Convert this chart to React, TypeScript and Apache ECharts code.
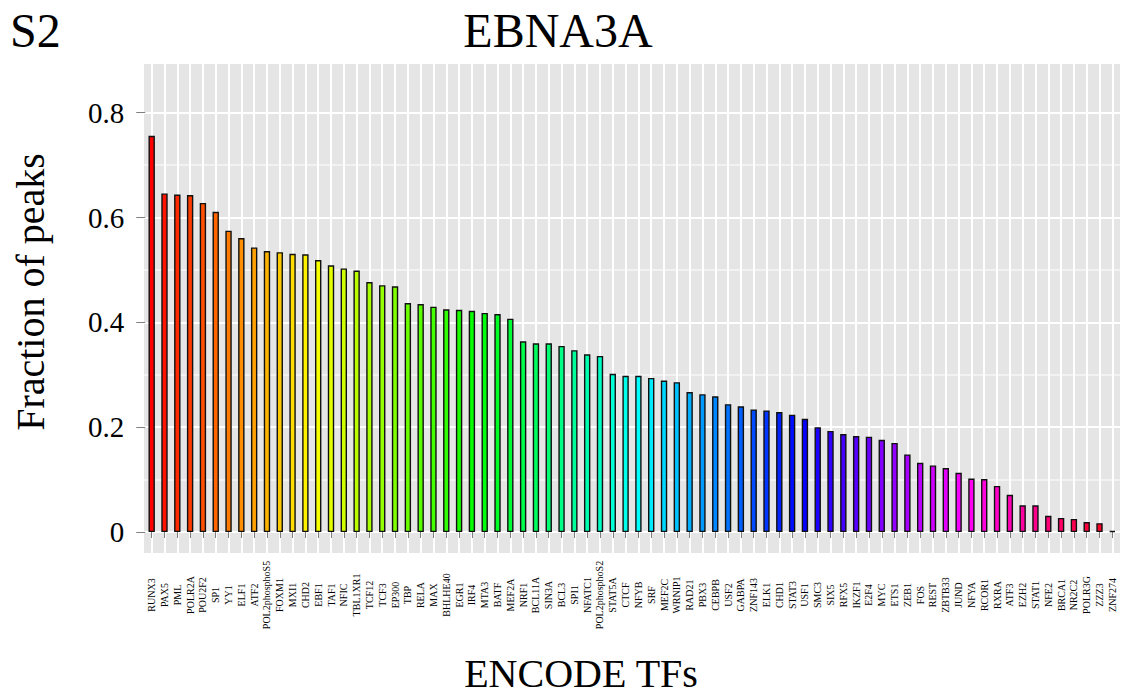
import React, { useEffect, useRef } from "react";
import * as echarts from "echarts";

const categories = [
  "RUNX3", "PAX5", "PML", "POLR2A", "POU2F2", "SP1", "YY1", "ELF1", "ATF2", "POL2phosphoS5",
  "FOXM1", "MXI1", "CHD2", "EBF1", "TAF1", "NFIC", "TBL1XR1", "TCF12", "TCF3", "EP300",
  "TBP", "RELA", "MAX", "BHLHE40", "EGR1", "IRF4", "MTA3", "BATF", "MEF2A", "NRF1",
  "BCL11A", "SIN3A", "BCL3", "SPI1", "NFATC1", "POL2phosphoS2", "STAT5A", "CTCF", "NFYB", "SRF",
  "MEF2C", "WRNIP1", "RAD21", "PBX3", "CEBPB", "USF2", "GABPA", "ZNF143", "ELK1", "CHD1",
  "STAT3", "USF1", "SMC3", "SIX5", "RFX5", "IKZF1", "E2F4", "MYC", "ETS1", "ZEB1",
  "FOS", "REST", "ZBTB33", "JUND", "NFYA", "RCOR1", "RXRA", "ATF3", "EZH2", "STAT1",
  "NFE2", "BRCA1", "NR2C2", "POLR3G", "ZZZ3", "ZNF274",
];

const values = [
  0.756, 0.646, 0.644, 0.643, 0.628, 0.611, 0.575, 0.561, 0.543, 0.536,
  0.534, 0.531, 0.530, 0.519, 0.509, 0.503, 0.499, 0.477, 0.471, 0.469,
  0.437, 0.435, 0.430, 0.425, 0.424, 0.422, 0.418, 0.416, 0.407, 0.364,
  0.360, 0.360, 0.355, 0.347, 0.339, 0.336, 0.302, 0.298, 0.298, 0.294,
  0.289, 0.286, 0.267, 0.263, 0.259, 0.244, 0.240, 0.234, 0.232, 0.229,
  0.224, 0.216, 0.200, 0.193, 0.187, 0.183, 0.182, 0.176, 0.170, 0.148,
  0.132, 0.127, 0.122, 0.113, 0.102, 0.101, 0.088, 0.071, 0.051, 0.051,
  0.031, 0.027, 0.025, 0.019, 0.017, 0.002,
];

const yTickValues = [0, 0.2, 0.4, 0.6, 0.8];
const yTickLabels = ["0", "0.2", "0.4", "0.6", "0.8"];

const panelLabel = "S2";
const chartTitle = "EBNA3A";
const xTitle = "ENCODE TFs";
const yTitle = "Fraction of peaks";

function hsvHex(h: number): string {
  // s = 1, v = 1 (like R's rainbow())
  const hh = (h % 1) * 6;
  const i = Math.floor(hh);
  const f = hh - i;
  const q = 1 - f;
  const t = f;
  let r = 0, g = 0, b = 0;
  switch (i) {
    case 0: r = 1; g = t; b = 0; break;
    case 1: r = q; g = 1; b = 0; break;
    case 2: r = 0; g = 1; b = t; break;
    case 3: r = 0; g = q; b = 1; break;
    case 4: r = t; g = 0; b = 1; break;
    default: r = 1; g = 0; b = q; break;
  }
  const h2 = (x: number) => Math.round(x * 255).toString(16).padStart(2, "0");
  return "#" + h2(r) + h2(g) + h2(b);
}

export default function App() {
  const ref = useRef<HTMLDivElement>(null);

  useEffect(() => {
    document.body.style.margin = "0";
    if (!ref.current) return;
    const chart = echarts.init(ref.current, null, { renderer: "svg" });

    const PANEL_L = 144, PANEL_R = 1120, PANEL_T = 64, PANEL_B = 553;
    const W = PANEL_R - PANEL_L;
    const H = PANEL_B - PANEL_T;
    const n = categories.length;
    const step = W / (n + 0.2);
    const colors = categories.map((_, i) => hsvHex(i / n));
    const font = "'Liberation Serif', 'Times New Roman', serif";
    const MAJ = "#FFFFFF";
    const MIN = "#F2F2F2";
    const T = "rgba(0,0,0,0)";
    const yMin = -0.04;
    const yMax = 0.893;

    chart.setOption({
      animation: false,
      grid: [
        { left: PANEL_L, top: PANEL_T, width: W, height: H, show: true, backgroundColor: "#E5E5E5", borderWidth: 0 },
        { left: PANEL_L + 0.1 * step, top: PANEL_T, width: n * step, height: H, show: false },
      ],
      xAxis: [
        {
          gridIndex: 0, type: "value", min: -0.6, max: n - 0.4, interval: 0.2,
          axisLine: { show: false }, axisTick: { show: false }, axisLabel: { show: false },
          splitLine: { show: true, lineStyle: { color: [T, T, T, MAJ, T], width: 2 } },
        },
        {
          gridIndex: 1, type: "category", data: categories, boundaryGap: true,
          axisLine: { show: false },
          axisTick: { show: true, alignWithLabel: true, length: 6, lineStyle: { color: "#7f7f7f", width: 1 } },
          axisLabel: {
            interval: 0, rotate: 90, fontSize: 10, fontFamily: font, color: "#000",
            margin: 42, align: "center", verticalAlign: "middle",
          },
          splitLine: { show: false },
        },
      ],
      yAxis: [
        {
          gridIndex: 0, type: "value", min: yMin, max: yMax, interval: 0.02,
          axisLine: { show: false }, axisTick: { show: false }, axisLabel: { show: false },
          splitLine: {
            show: true, showMaxLine: false,
            lineStyle: { color: [T, T, MAJ, T, T, T, T, MIN, T, T], width: 2 },
          },
        },
        {
          gridIndex: 1, type: "value", min: yMin, max: yMax,
          axisLine: { show: false },
          splitLine: { show: false },
          axisTick: { show: true, customValues: yTickValues, length: 9, lineStyle: { color: "#7f7f7f", width: 1 } },
          axisLabel: {
            customValues: yTickValues,
            fontSize: 29, fontFamily: font, color: "#000", margin: 21,
            formatter: (v: number) => {
              const i = yTickValues.findIndex((t) => Math.abs(t - v) < 1e-9);
              return i >= 0 ? yTickLabels[i] : "";
            },
          },
        },
      ],
      series: [
        {
          type: "bar",
          xAxisIndex: 1,
          yAxisIndex: 1,
          barWidth: 6.4,
          itemStyle: { borderColor: "#111", borderWidth: 1.4 },
          data: values.map((v, i) => ({ value: v, itemStyle: { color: colors[i] } })),
        },
      ],
      graphic: [
        {
          type: "text", x: 10, y: 30,
          style: { text: panelLabel, font: `48px ${font}`, fill: "#000", align: "left", verticalAlign: "middle" },
        },
        {
          type: "text", x: 558, y: 30,
          style: { text: chartTitle, font: `48px ${font}`, fill: "#000", align: "center", verticalAlign: "middle" },
        },
        {
          type: "text", x: 581, y: 673,
          style: { text: xTitle, font: `40px ${font}`, fill: "#000", align: "center", verticalAlign: "middle" },
        },
        {
          type: "text", x: 30, y: 292, rotation: Math.PI / 2,
          style: { text: yTitle, font: `40px ${font}`, fill: "#000", align: "center", verticalAlign: "middle" },
        },
      ],
    });

    return () => {
      chart.dispose();
    };
  }, []);

  return <div ref={ref} style={{ width: 1130, height: 696 }} />;
}
